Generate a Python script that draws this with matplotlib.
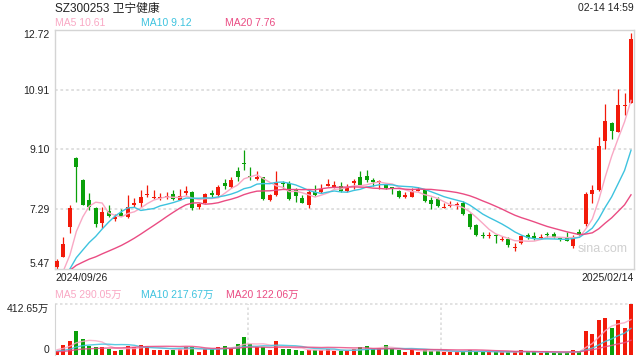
import numpy as np
import pandas as pd
import matplotlib.pyplot as plt

plt.rcParams['font.family'] = ['Liberation Sans', 'Noto Sans CJK SC']

# daily candles, 2024/09/26 .. 2025/02/14
opens = [5.52, 5.84, 6.75, 8.83, 8.17, 7.56, 7.32, 6.87, 7.23, 6.99,
         7.17, 7.05, 7.40, 7.48, 7.71, 7.61, 7.63, 7.66, 7.73, 7.57,
         7.78, 7.80, 7.34, 7.48, 7.78, 7.70, 8.09, 7.95, 8.44, 8.66,
         8.28, 8.19, 8.25, 7.56, 7.70, 8.06, 8.07, 7.86, 7.62, 7.42,
         7.80, 7.80, 8.00, 7.96, 7.99, 7.83, 8.07, 8.25, 8.29, 8.17,
         8.10, 8.03, 7.94, 7.84, 7.66, 7.66, 7.85, 7.86, 7.56, 7.60,
         7.33, 7.37, 7.41, 7.48, 7.14, 6.79, 6.48, 6.48, 6.48, 6.36,
         6.39, 6.11, 6.25, 6.49, 6.47, 6.42, 6.52, 6.53, 6.40, 6.45,
         6.16, 6.59, 6.85, 7.76, 7.86, 9.34, 9.89, 9.64, 10.42, 10.51]
highs = [5.76, 6.43, 7.42, 8.86, 8.20, 7.79, 7.34, 7.36, 7.41, 7.14,
         7.28, 7.70, 7.62, 7.86, 8.01, 7.86, 7.78, 7.80, 7.86, 7.89,
         7.98, 7.84, 7.46, 7.78, 7.88, 8.02, 8.19, 8.27, 8.55, 9.08,
         8.57, 8.43, 8.27, 7.76, 8.45, 8.13, 8.13, 7.94, 7.72, 7.86,
         8.01, 8.05, 8.19, 8.15, 8.10, 8.06, 8.21, 8.43, 8.47, 8.23,
         8.17, 8.06, 7.97, 7.88, 7.80, 7.92, 7.96, 7.90, 7.64, 7.64,
         7.46, 7.52, 7.50, 7.54, 7.16, 6.83, 6.59, 6.59, 6.53, 6.47,
         6.45, 6.25, 6.51, 6.55, 6.59, 6.53, 6.59, 6.59, 6.45, 6.59,
         6.49, 6.69, 7.80, 8.03, 9.48, 10.49, 9.93, 10.92, 10.80, 12.62]
lows = [5.47, 5.82, 6.57, 7.51, 7.40, 7.26, 6.75, 6.71, 7.05, 6.93,
        7.07, 7.01, 7.36, 7.34, 7.64, 7.58, 7.57, 7.60, 7.56, 7.55,
        7.72, 7.26, 7.30, 7.46, 7.64, 7.64, 7.90, 7.93, 8.13, 8.47,
        8.17, 8.17, 7.56, 7.52, 7.68, 7.90, 7.56, 7.50, 7.46, 7.32,
        7.68, 7.78, 7.99, 7.94, 7.80, 7.81, 7.90, 8.01, 8.11, 8.00,
        7.90, 7.90, 7.76, 7.62, 7.62, 7.64, 7.84, 7.50, 7.29, 7.34,
        7.32, 7.34, 7.29, 7.12, 6.69, 6.47, 6.41, 6.41, 6.26, 6.33,
        6.15, 6.02, 6.22, 6.37, 6.35, 6.37, 6.45, 6.41, 6.31, 6.31,
        6.12, 6.49, 6.77, 7.48, 7.84, 9.10, 9.42, 9.64, 10.13, 10.51]
closes = [5.72, 6.23, 7.32, 8.57, 7.42, 7.34, 6.83, 7.20, 7.07, 7.05,
          7.09, 7.36, 7.46, 7.64, 7.72, 7.62, 7.64, 7.67, 7.58, 7.69,
          7.84, 7.32, 7.44, 7.74, 7.70, 7.95, 7.99, 8.17, 8.27, 8.65,
          8.27, 8.27, 7.60, 7.71, 8.11, 8.05, 7.60, 7.68, 7.48, 7.80,
          7.70, 7.90, 8.01, 8.03, 7.84, 7.95, 8.13, 8.03, 8.17, 8.11,
          8.11, 7.93, 7.93, 7.66, 7.72, 7.84, 7.86, 7.54, 7.44, 7.38,
          7.34, 7.38, 7.42, 7.14, 6.75, 6.51, 6.47, 6.49, 6.47, 6.37,
          6.19, 6.12, 6.47, 6.41, 6.39, 6.43, 6.51, 6.45, 6.39, 6.33,
          6.45, 6.51, 7.76, 7.88, 9.20, 9.95, 9.66, 10.43, 10.43, 12.45]
# volume in 万
volumes = [32, 81, 116, 194, 129, 73, 65, 65, 49, 32,
           40, 73, 65, 81, 73, 40, 40, 40, 40, 49,
           65, 65, 24, 49, 49, 65, 73, 57, 89, 146,
           89, 65, 65, 40, 113, 49, 49, 40, 32, 40,
           40, 40, 49, 32, 32, 32, 49, 65, 73, 49,
           57, 81, 49, 40, 24, 40, 24, 40, 32, 32,
           24, 24, 24, 32, 40, 24, 24, 24, 24, 24,
           24, 24, 40, 24, 24, 16, 24, 16, 16, 24,
           40, 32, 194, 172, 283, 299, 221, 283, 218, 412.65]

# days before the visible window (only feed the moving averages)
pre_close = [5.60, 5.60, 5.55, 5.50, 5.50, 5.45, 5.40, 5.40, 5.35, 5.30,
             5.25, 5.20, 5.15, 5.10, 5.05, 5.00, 4.95, 5.00, 5.20]
pre_volume = [25, 22, 20, 24, 21, 23, 20, 19, 22, 24,
              20, 18, 21, 19, 23, 26, 30, 55, 70]

price_ticks = [5.47, 7.29, 9.10, 10.91, 12.72]
price_labels = ['5.47', '7.29', '9.10', '10.91', '12.72']
vol_max = 412.65
vol_labels = ['0', '412.65万']
ma_text = ['MA5 10.61', 'MA10 9.12', 'MA20 7.76']
vol_ma_text = ['MA5 290.05万', 'MA10 217.67万', 'MA20 122.06万']
title = 'SZ300253 卫宁健康'
stamp = '02-14 14:59'
first_date = '2024/09/26'
last_date = '2025/02/14'

RED = '#f21a0a'
GREEN = '#0aa00a'
MA_COLORS = ['#f9a8c4', '#3ec3df', '#ea4c83']
GRID = '#dddddd'
FRAME = '#d4d4d4'

o = np.array(opens)
h = np.array(highs)
l = np.array(lows)
c = np.array(closes)
v = np.array(volumes)
n = len(c)
x = np.arange(n)
colors = np.where(c >= o, RED, GREEN)

close_all = pd.Series(pre_close + closes)
vol_all = pd.Series(pre_volume + volumes)
npre = len(pre_close)


def px(xp, yp):
    return xp / 640, 1 - yp / 360


fig = plt.figure(figsize=(6.4, 3.6), dpi=100)
left, right = 55, 634
ax = fig.add_axes([left / 640, (360 - 269) / 360, (right - left) / 640, 239 / 360])
axv = fig.add_axes([left / 640, (360 - 355) / 360, (right - left) / 640, 51 / 360])

xl = (-2 / 6.45, n - 1 + 3 / 6.45)

# ---- price panel
for yv in price_ticks[1:-1]:
    ax.axhline(yv, color=GRID, lw=1.3, ls=(0, (1.5, 1.5)), zorder=0)
ax.vlines(x, l, h, colors=colors, lw=0.9, zorder=2)
ax.bar(x, np.maximum(np.abs(c - o), 0.035), bottom=np.minimum(o, c),
       width=0.62, color=colors, linewidth=0, zorder=3)
for win, col in zip([5, 10, 20], MA_COLORS):
    ma = close_all.rolling(win).mean().iloc[npre:].values
    ax.plot(x, ma, color=col, lw=1.0, zorder=4)
ax.set_xlim(*xl)
ax.set_ylim(price_ticks[0], price_ticks[-1])
ax.set_xticks([])
ax.set_yticks(price_ticks)
ax.set_yticklabels(price_labels, fontsize=7.5, color='#222222')
ax.tick_params(axis='y', length=0, pad=4)
tl = ax.get_yticklabels()
tl[0].set_va('bottom')
tl[-1].set_va('top')
for s in ax.spines.values():
    s.set_color(FRAME)
    s.set_linewidth(1)
ax.text(0.945, 0.085, 'sina.com', transform=ax.transAxes, ha='center',
        va='center', fontsize=9, color='#d0d0d0')

# ---- volume panel
axv.plot([0, 1], [1, 1], transform=axv.transAxes, color=GRID, lw=1.2,
         ls=(0, (1.5, 1.5)), clip_on=False)
for fx in [1 / 3, 2 / 3]:
    axv.plot([fx, fx], [0, 1], transform=axv.transAxes, color=GRID, lw=1.2,
             ls=(0, (1.5, 1.5)))
axv.bar(x, v, width=0.62, color=colors, linewidth=0, zorder=2)
for win, col in zip([5, 10, 20], MA_COLORS):
    ma = vol_all.rolling(win).mean().iloc[npre:].values
    axv.plot(x, ma, color=col, lw=1.0, alpha=0.85, zorder=3)
axv.set_xlim(*xl)
axv.set_ylim(0, vol_max)
axv.set_xticks([])
axv.set_yticks([0, vol_max])
axv.set_yticklabels(vol_labels, fontsize=7.5, color='#222222')
axv.tick_params(axis='y', length=0, pad=4)
vl = axv.get_yticklabels()
vl[0].set_va('bottom')
vl[1].set_va('top')
for k in ['top', 'right', 'bottom']:
    axv.spines[k].set_visible(False)
axv.spines['left'].set_color(FRAME)

# ---- texts
fig.text(*px(55, 8.5), title, fontsize=8.5, va='center', color='#222222')
fig.text(*px(634, 8), stamp, fontsize=7.5, va='center', ha='right', color='#222222')
for xp, t, col in zip([55, 141, 225], ma_text, MA_COLORS):
    fig.text(*px(xp, 23.5), t, fontsize=7.5, va='center', color=col)
for xp, t, col in zip([55, 141, 226], vol_ma_text, MA_COLORS):
    fig.text(*px(xp, 295), t, fontsize=7.5, va='center', color=col)
fig.text(*px(55, 278), first_date, fontsize=7.5, va='center', color='#222222')
fig.text(*px(634, 278), last_date, fontsize=7.5, va='center', ha='right', color='#222222')

fig.savefig('out.png', dpi=100)
